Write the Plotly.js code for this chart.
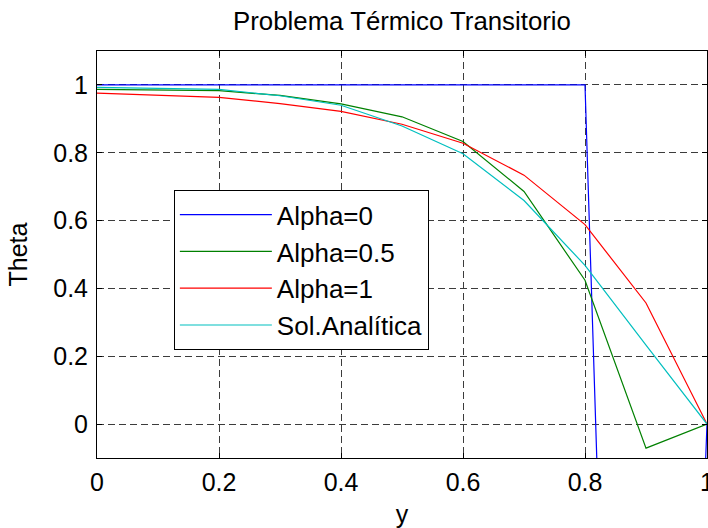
<!DOCTYPE html>
<html>
<head>
<meta charset="utf-8">
<script src="https://cdn.plot.ly/plotly-3.0.1.min.js"></script>
<style>
html,body{margin:0;padding:0;background:#fff;}
#chart{width:708px;height:528px;}
</style>
</head>
<body>
<div id="chart"></div>
<script>
// Data
const yPos = [0, 0.1, 0.2, 0.3, 0.4, 0.5, 0.6, 0.7, 0.8, 0.9, 1.0];
const alpha0 = [1, 1, 1, 1, 1, 1, 1, 1, 1, -4.7, 0];
const alpha05 = [0.987, 0.985, 0.983, 0.969, 0.944, 0.906, 0.833, 0.686, 0.424, -0.071, 0];
const alpha1 = [0.976, 0.970, 0.963, 0.945, 0.922, 0.884, 0.828, 0.734, 0.588, 0.357, 0];
const analytic = [0.993, 0.991, 0.987, 0.968, 0.940, 0.879, 0.797, 0.659, 0.468, 0.233, 0];

const seriesNames = ["Alpha=0", "Alpha=0.5", "Alpha=1", "Sol.Analítica"];
const seriesColors = ["#0000ff", "#008000", "#ff0000", "#00bfbf"];

const xTickVals = [0, 0.2, 0.4, 0.6, 0.8, 1];
const xTickText = ["0", "0.2", "0.4", "0.6", "0.8", "1"];
const yTickVals = [0, 0.2, 0.4, 0.6, 0.8, 1];
const yTickText = ["0", "0.2", "0.4", "0.6", "0.8", "1"];

const titleText = "Problema Térmico Transitorio";
const xTitle = "y";
const yTitle = "Theta";

const seriesValues = [alpha0, alpha05, alpha1, analytic];
const traces = seriesValues.map((vals, i) => ({
  x: yPos,
  y: vals,
  type: "scatter",
  mode: "lines",
  name: seriesNames[i],
  line: {color: seriesColors[i], width: 1.2}
}));

const FONT = "Liberation Sans, Arial, Helvetica, sans-serif";
const gridCol = "#3c3c3c";

const axisCommon = {
  showline: true,
  linecolor: "#000",
  linewidth: 1,
  mirror: "ticks",
  ticks: "inside",
  ticklen: 5,
  tickcolor: "#000",
  showgrid: true,
  gridcolor: gridCol,
  gridwidth: 1,
  griddash: "7px,4px",
  zeroline: false,
  tickfont: {family: FONT, size: 25, color: "#000"},
  tickmode: "array",
  ticklabeloverflow: "allow"
};

const layout = {
  width: 708,
  height: 528,
  margin: {l: 97, r: 1, t: 51, b: 70, pad: 0},
  paper_bgcolor: "#fff",
  plot_bgcolor: "#fff",
  font: {family: FONT, color: "#000"},
  title: {
    text: titleText,
    font: {family: FONT, size: 25.8, color: "#000"},
    xref: "paper", x: 0.5, xanchor: "center",
    yref: "container", y: 1 - 21/528, yanchor: "middle"
  },
  xaxis: Object.assign({}, axisCommon, {
    range: [0, 1],
    tickvals: xTickVals,
    ticktext: xTickText,
    ticklabelstandoff: 2,
    title: {text: xTitle, font: {family: FONT, size: 25, color: "#000"}, standoff: 10}
  }),
  yaxis: Object.assign({}, axisCommon, {
    range: [-0.1, 1.1],
    tickvals: yTickVals,
    ticktext: yTickText,
    ticklabelstandoff: 3,
    title: {text: yTitle, font: {family: FONT, size: 25, color: "#000"}, standoff: 18}
  }),
  showlegend: true,
  legend: {
    x: 0.126, y: 0.658, xanchor: "left", yanchor: "top",
    bgcolor: "#fff",
    bordercolor: "#000",
    borderwidth: 1,
    font: {family: FONT, size: 26, color: "#000"},
    itemwidth: 92,
    entrywidth: 162,
    entrywidthmode: "pixels",
    tracegroupgap: 0
  }
};

Plotly.newPlot("chart", traces, layout, {displayModeBar: false, staticPlot: true});
</script>
</body>
</html>
